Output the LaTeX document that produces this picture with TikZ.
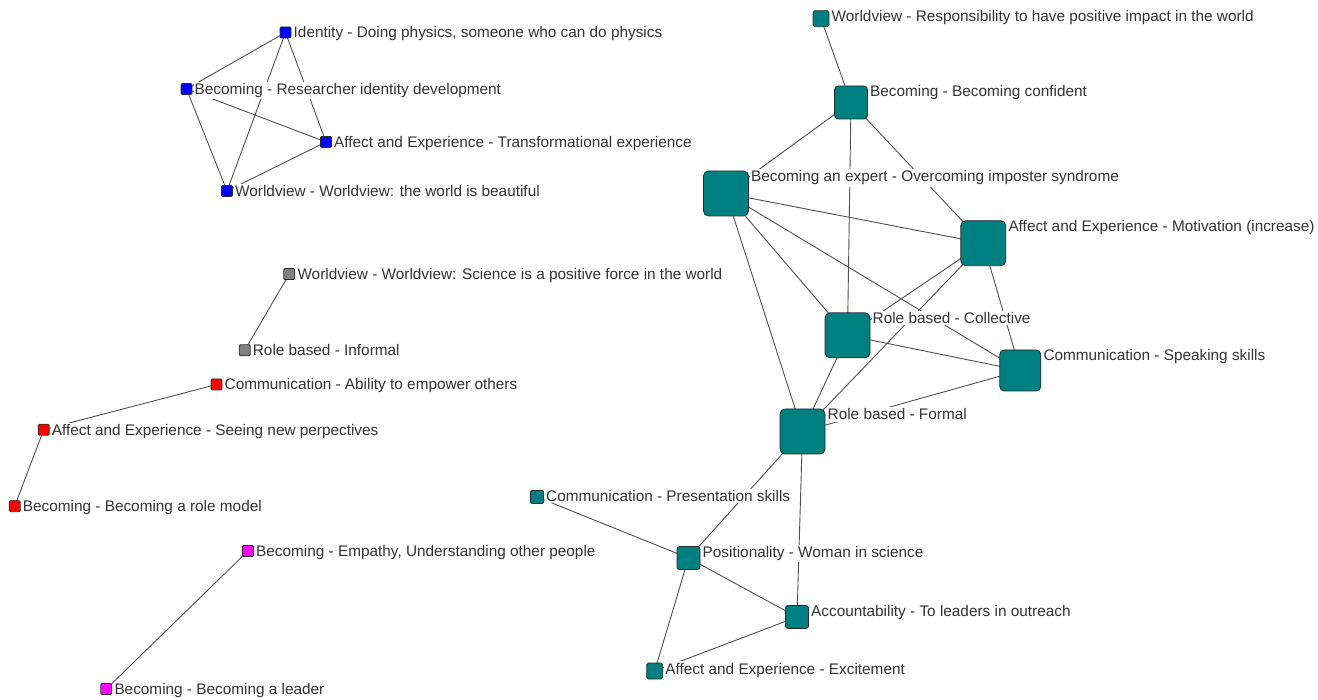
\documentclass[tikz,border=0pt]{standalone}
\usepackage{fontspec}
\setmainfont{Liberation Sans}
\usetikzlibrary{backgrounds}
\definecolor{cteal}{HTML}{008080}
\definecolor{cblue}{HTML}{0000FF}
\definecolor{cgray}{HTML}{808080}
\definecolor{cred}{HTML}{FF0000}
\definecolor{cmag}{HTML}{FF00FF}
\definecolor{edgec}{HTML}{505050}
\definecolor{txtc}{HTML}{333333}
\definecolor{bordc}{HTML}{2A2A2A}
\tikzset{
  sq/.style={draw=bordc, line width=0.8pt, rectangle, inner sep=0pt, outer sep=0pt, minimum size=#1, rounded corners=#1*0.11},
  lab/.style={fill=white, text=txtc, inner xsep=1pt, inner ysep=1.5pt, anchor=base west, font=\fontsize{15.35}{17}\selectfont},
  edge/.style={draw=edgec, line width=0.9pt}
}
\newcommand\mynode[6]{%
  \node[sq=#4, fill=#5] (#1) at (#2,#3) {};%
}
\newcommand\mylab[2]{%
  \node[lab] at ([shift={(1.5,11)}]#1.north east) {#2};%
}
\begin{document}
\begin{tikzpicture}[x=1pt,y=-1pt]
\useasboundingbox (0,0) rectangle (1318,700);
% blue
\mynode{idn}{285.5}{32.5}{11}{cblue}{}
\mynode{brd}{186.5}{89}{11}{cblue}{}
\mynode{atr}{326}{142}{11}{cblue}{}
\mynode{wvb}{227}{191}{11}{cblue}{}
% gray
\mynode{wvs}{289.3}{274}{11}{cgray}{}
\mynode{rbi}{244.7}{350.3}{11}{cgray}{}
% red
\mynode{cae}{216.5}{384.5}{11}{cred}{}
\mynode{asn}{43.7}{429.7}{11}{cred}{}
\mynode{bro}{14.7}{506.2}{11}{cred}{}
% magenta
\mynode{emp}{248}{551}{11}{cmag}{}
\mynode{lea}{106.3}{689}{11}{cmag}{}
% teal
\mynode{res}{821}{18.7}{16}{cteal}{}
\mynode{con}{851}{102.5}{33}{cteal}{}
\mynode{exp}{726}{193.5}{45}{cteal}{}
\mynode{mot}{983.3}{243.2}{45}{cteal}{}
\mynode{col}{847.5}{335.3}{45}{cteal}{}
\mynode{spk}{1020.3}{370.5}{41}{cteal}{}
\mynode{frm}{802.5}{431.5}{45}{cteal}{}
\mynode{pre}{537}{497}{13}{cteal}{}
\mynode{pos}{688.5}{558}{23}{cteal}{}
\mynode{acc}{797}{617}{23}{cteal}{}
\mynode{exc}{654.7}{671}{16}{cteal}{}
\begin{scope}[on background layer]
\draw[edge] (idn.center) -- (brd.center);
\draw[edge] (idn.center) -- (wvb.center);
\draw[edge] (idn.center) -- (atr.center);
\draw[edge] (brd.center) -- (atr.center);
\draw[edge] (brd.center) -- (wvb.center);
\draw[edge] (atr.center) -- (wvb.center);
\draw[edge] (wvs.center) -- (rbi.center);
\draw[edge] (cae.center) -- (asn.center);
\draw[edge] (asn.center) -- (bro.center);
\draw[edge] (emp.center) -- (lea.center);
\draw[edge] (res.center) -- (con.center);
\draw[edge] (con.center) -- (exp.center);
\draw[edge] (con.center) -- (col.center);
\draw[edge] (con.center) -- (mot.center);
\draw[edge] (exp.center) -- (mot.center);
\draw[edge] (exp.center) -- (col.center);
\draw[edge] (exp.center) -- (spk.center);
\draw[edge] (exp.center) -- (frm.center);
\draw[edge] (mot.center) -- (col.center);
\draw[edge] (mot.center) -- (frm.center);
\draw[edge] (mot.center) -- (spk.center);
\draw[edge] (col.center) -- (spk.center);
\draw[edge] (col.center) -- (frm.center);
\draw[edge] (frm.center) -- (spk.center);
\draw[edge] (frm.center) -- (pos.center);
\draw[edge] (frm.center) -- (acc.center);
\draw[edge] (pre.center) -- (pos.center);
\draw[edge] (pos.center) -- (acc.center);
\draw[edge] (pos.center) -- (exc.center);
\draw[edge] (acc.center) -- (exc.center);
\end{scope}
\mylab{idn}{Identity - Doing physics, someone who can do physics}
\mylab{brd}{Becoming - Researcher identity development}
\mylab{atr}{Affect and Experience - Transformational experience}
\mylab{wvb}{Worldview - Worldview: the world is beautiful}
\mylab{wvs}{Worldview - Worldview: Science is a positive force in the world}
\mylab{rbi}{Role based - Informal}
\mylab{cae}{Communication - Ability to empower others}
\mylab{asn}{Affect and Experience - Seeing new perpectives}
\mylab{bro}{Becoming - Becoming a role model}
\mylab{emp}{Becoming - Empathy, Understanding other people}
\mylab{lea}{Becoming - Becoming a leader}
\mylab{res}{Worldview - Responsibility to have positive impact in the world}
\mylab{con}{Becoming - Becoming confident}
\mylab{exp}{Becoming an expert - Overcoming imposter syndrome}
\mylab{mot}{Affect and Experience - Motivation (increase)}
\mylab{col}{Role based - Collective}
\mylab{spk}{Communication - Speaking skills}
\mylab{frm}{Role based - Formal}
\mylab{pre}{Communication - Presentation skills}
\mylab{pos}{Positionality - Woman in science}
\mylab{acc}{Accountability - To leaders in outreach}
\mylab{exc}{Affect and Experience - Excitement}
\end{tikzpicture}
\end{document}
